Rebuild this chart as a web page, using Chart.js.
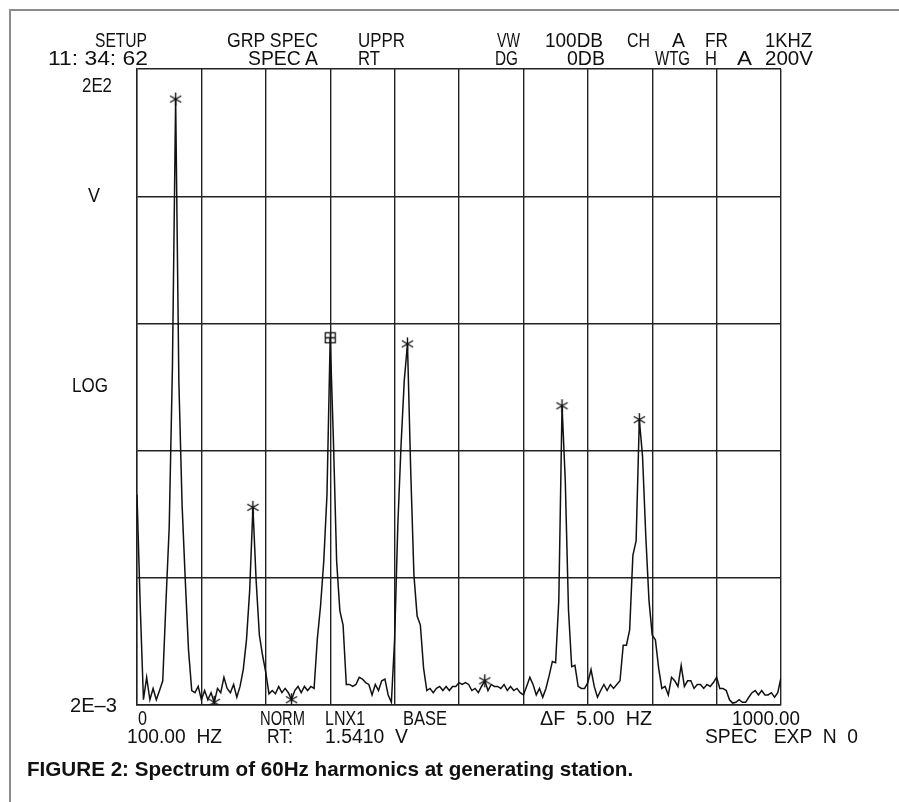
<!DOCTYPE html>
<html>
<head>
<meta charset="utf-8">
<script src="https://cdn.jsdelivr.net/npm/chart.js@4.4.1/dist/chart.umd.min.js"></script>
<style>
  html, body { margin: 0; padding: 0; background: #fff; }
  #wrap { position: relative; width: 899px; height: 802px; overflow: hidden; background: #fff; }
  #frame { position: absolute; left: 9px; top: 9px; width: 900px; height: 800px;
           border-top: 2px solid #8c8c8c; border-left: 2px solid #8c8c8c; }
  canvas { position: absolute; left: 0; top: 0; }
  .t { position: absolute; font-family: "Liberation Sans", Arial, sans-serif; font-size: 20px;
       line-height: 20px; white-space: pre; color: #111; transform-origin: 0 0; }
  .cap { font-weight: bold; font-size: 21px; line-height: 21px; }
</style>
</head>
<body>
<div id="wrap">
  <div id="frame"></div>
  <canvas id="spec" width="899" height="802"></canvas>
</div>
<script>
// spectrum readout, one value (volts) every deltaF Hz from 0 to 1000 Hz
const deltaF = 5;
const volts = [
  0.09, 0.012, 0.0022, 0.0033, 0.0022, 0.0027, 0.0022, 0.0026, 0.0031, 0.013,      // 0-45
  0.05, 0.9, 116, 0.7, 0.075, 0.019, 0.0054, 0.0026, 0.0025, 0.0028,               // 50-95
  0.0022, 0.0026, 0.0022, 0.0025, 0.0021, 0.0027, 0.0025, 0.0033, 0.0027, 0.0025,  // 100-145
  0.0029, 0.0023, 0.0028, 0.0038, 0.0065, 0.016, 0.0716, 0.019, 0.0071, 0.0049,    // 150-195
  0.0036, 0.00245, 0.0026, 0.00245, 0.0028, 0.0025, 0.0027, 0.0025, 0.0022, 0.0026, // 200-245
  0.0028, 0.0025, 0.0028, 0.0026, 0.0028, 0.0027, 0.0066, 0.012, 0.027, 0.09,      // 250-295
  1.541, 0.24, 0.027, 0.011, 0.0085, 0.0029, 0.0029, 0.0028, 0.0029, 0.0033,       // 300-345
  0.0032, 0.0030, 0.0029, 0.0024, 0.0029, 0.0026, 0.0031, 0.0032, 0.0024, 0.0021,  // 350-395
  0.0065, 0.052, 0.22, 0.71, 1.38, 0.14, 0.021, 0.010, 0.0085, 0.0039,             // 400-445
  0.0026, 0.0027, 0.0025, 0.0027, 0.0028, 0.0026, 0.0028, 0.0026, 0.0028, 0.0028,  // 450-495
  0.003, 0.0029, 0.003, 0.0029, 0.0026, 0.0027, 0.0025, 0.0028, 0.0031, 0.0026,    // 500-545
  0.0029, 0.0028, 0.0028, 0.0027, 0.0029, 0.0026, 0.0028, 0.0026, 0.0027, 0.0025,  // 550-595
  0.0024, 0.0028, 0.0033, 0.0029, 0.0024, 0.0027, 0.0023, 0.0027, 0.0034, 0.0044,  // 600-645
  0.0043, 0.0133, 0.45, 0.117, 0.0112, 0.004, 0.0041, 0.0028, 0.0027, 0.0027,      // 650-695
  0.003, 0.0038, 0.0028, 0.0023, 0.0026, 0.0029, 0.0026, 0.0029, 0.0027, 0.0029,   // 700-745
  0.0031, 0.0059, 0.0059, 0.0078, 0.030, 0.039, 0.35, 0.18, 0.043, 0.0133,         // 750-795
  0.0071, 0.0065, 0.0039, 0.0027, 0.0028, 0.0024, 0.0033, 0.0031, 0.0028, 0.0041,  // 800-845
  0.0028, 0.0031, 0.0031, 0.0027, 0.0029, 0.0029, 0.0027, 0.0029, 0.0028, 0.0030,  // 850-895
  0.0033, 0.0027, 0.0027, 0.0026, 0.0022, 0.00207, 0.0021, 0.0022, 0.0021, 0.0021, // 900-945
  0.0023, 0.0025, 0.0026, 0.0024, 0.0026, 0.0024, 0.0024, 0.0025, 0.0023, 0.0025,  // 950-995
  0.0033                                                                            // 1000
];

// grid divisions
const xGridHz = [0, 100, 200, 300, 400, 500, 600, 700, 800, 900, 1000];
const yGridV = [2e-3, 2e-2, 2e-1, 2, 20, 200];

// harmonic markers (asterisks) and the LNX1 cursor
const starHz = [60, 120, 180, 240, 420, 540, 660, 780];
const cursorHz = [300];

// plotter annotations: text, left, right, baseline
const annotations = [
  ['SETUP', 95, 147, 47], ['GRP SPEC', 227, 318, 47], ['UPPR', 358, 405, 47],
  ['VW', 497, 520, 47], ['100DB', 545, 603, 47], ['CH', 627, 650, 47], ['A', 672, 685, 47],
  ['FR', 705, 728, 47], ['1KHZ', 765, 812, 47],
  ['11: 34: 62', 48, 148, 65], ['SPEC A', 248, 318, 65], ['RT', 358, 380, 65],
  ['DG', 495, 518, 65], ['0DB', 567, 605, 65], ['WTG', 655, 690, 65], ['H', 705, 717, 65],
  ['A', 737, 752, 65], ['200V', 765, 813, 65],
  ['2E2', 82, 112, 92], ['V', 88, 100, 202], ['LOG', 72, 108, 392], ['2E\u20133', 70, 117, 712],
  ['0', 138, 147, 725], ['NORM', 260, 305, 725], ['LNX1', 325, 365, 725], ['BASE', 403, 447, 725],
  ['\u0394F  5.00  HZ', 540, 652, 725], ['1000.00', 732, 800, 725],
  ['100.00  HZ', 127, 222, 743], ['RT:', 267, 293, 743], ['1.5410  V', 325, 408, 743],
  ['SPEC   EXP  N  0', 705, 858, 743]
];
const caption = ['FIGURE 2: Spectrum of 60Hz harmonics at generating station.', 27, 633, 776];

function makeStar() {
  const c = document.createElement('canvas');
  c.width = 15; c.height = 15;
  const g = c.getContext('2d');
  g.strokeStyle = '#111';
  g.lineWidth = 1.4;
  g.beginPath();
  for (let k = 0; k < 3; k++) {
    const a = Math.PI / 2 + k * Math.PI / 3;
    g.moveTo(7.5 - 6.5 * Math.cos(a), 7.5 - 6.5 * Math.sin(a));
    g.lineTo(7.5 + 6.5 * Math.cos(a), 7.5 + 6.5 * Math.sin(a));
  }
  g.stroke();
  return c;
}

function makeCursor() {
  const c = document.createElement('canvas');
  c.width = 13; c.height = 13;
  const g = c.getContext('2d');
  g.strokeStyle = '#111';
  g.lineWidth = 1.3;
  g.strokeRect(1.5, 1.5, 10, 10);
  g.beginPath();
  g.moveTo(6.5, 1.5); g.lineTo(6.5, 11.5);
  g.moveTo(1.5, 6.5); g.lineTo(11.5, 6.5);
  g.stroke();
  return c;
}

const trace = volts.map((v, i) => ({ x: i * deltaF, y: v }));
const valueAt = hz => volts[Math.round(hz / deltaF)];

const gridStyle = { color: '#222', lineWidth: 1.4, drawTicks: false };
const borderStyle = { display: true, color: '#222', width: 1.4 };

const chart = new Chart(document.getElementById('spec').getContext('2d'), {
  type: 'scatter',
  data: {
    datasets: [{
      type: 'line',
      data: trace,
      borderColor: '#111',
      borderWidth: 1.5,
      pointRadius: 0,
      tension: 0,
      order: 2
    }, {
      data: starHz.map(h => ({ x: h, y: valueAt(h) })),
      pointStyle: makeStar(),
      pointRadius: 7,
      order: 1
    }, {
      data: cursorHz.map(h => ({ x: h, y: valueAt(h) })),
      pointStyle: makeCursor(),
      pointRadius: 6,
      order: 0
    }]
  },
  options: {
    responsive: false,
    animation: false,
    devicePixelRatio: 1,
    layout: { padding: { left: 137, top: 69, right: 118, bottom: 97 } },
    plugins: { legend: { display: false }, tooltip: { enabled: false } },
    scales: {
      x: {
        type: 'linear', min: 0, max: 1000,
        afterBuildTicks: s => { s.ticks = xGridHz.map(v => ({ value: v })); },
        ticks: { display: false },
        grid: gridStyle,
        border: borderStyle
      },
      y: {
        type: 'logarithmic', min: yGridV[0], max: yGridV[yGridV.length - 1],
        afterBuildTicks: s => { s.ticks = yGridV.map(v => ({ value: v })); },
        ticks: { display: false },
        grid: gridStyle,
        border: borderStyle
      }
    }
  }
});

// text, squeezed to the width the plotter used
const wrap = document.getElementById('wrap');
function place(item, cls) {
  const d = document.createElement('div');
  d.className = 't' + (cls ? ' ' + cls : '');
  d.textContent = item[0];
  d.style.left = item[1] + 'px';
  wrap.appendChild(d);
  const h = d.getBoundingClientRect().height;
  // baseline sits about 0.85 of the line box down
  d.style.top = (item[3] - Math.round(h * 0.85)) + 'px';
  const w = d.getBoundingClientRect().width;
  d.style.transform = 'scaleX(' + ((item[2] - item[1]) / w).toFixed(3) + ')';
}
annotations.forEach(a => place(a));
place(caption, 'cap');
</script>
</body>
</html>
